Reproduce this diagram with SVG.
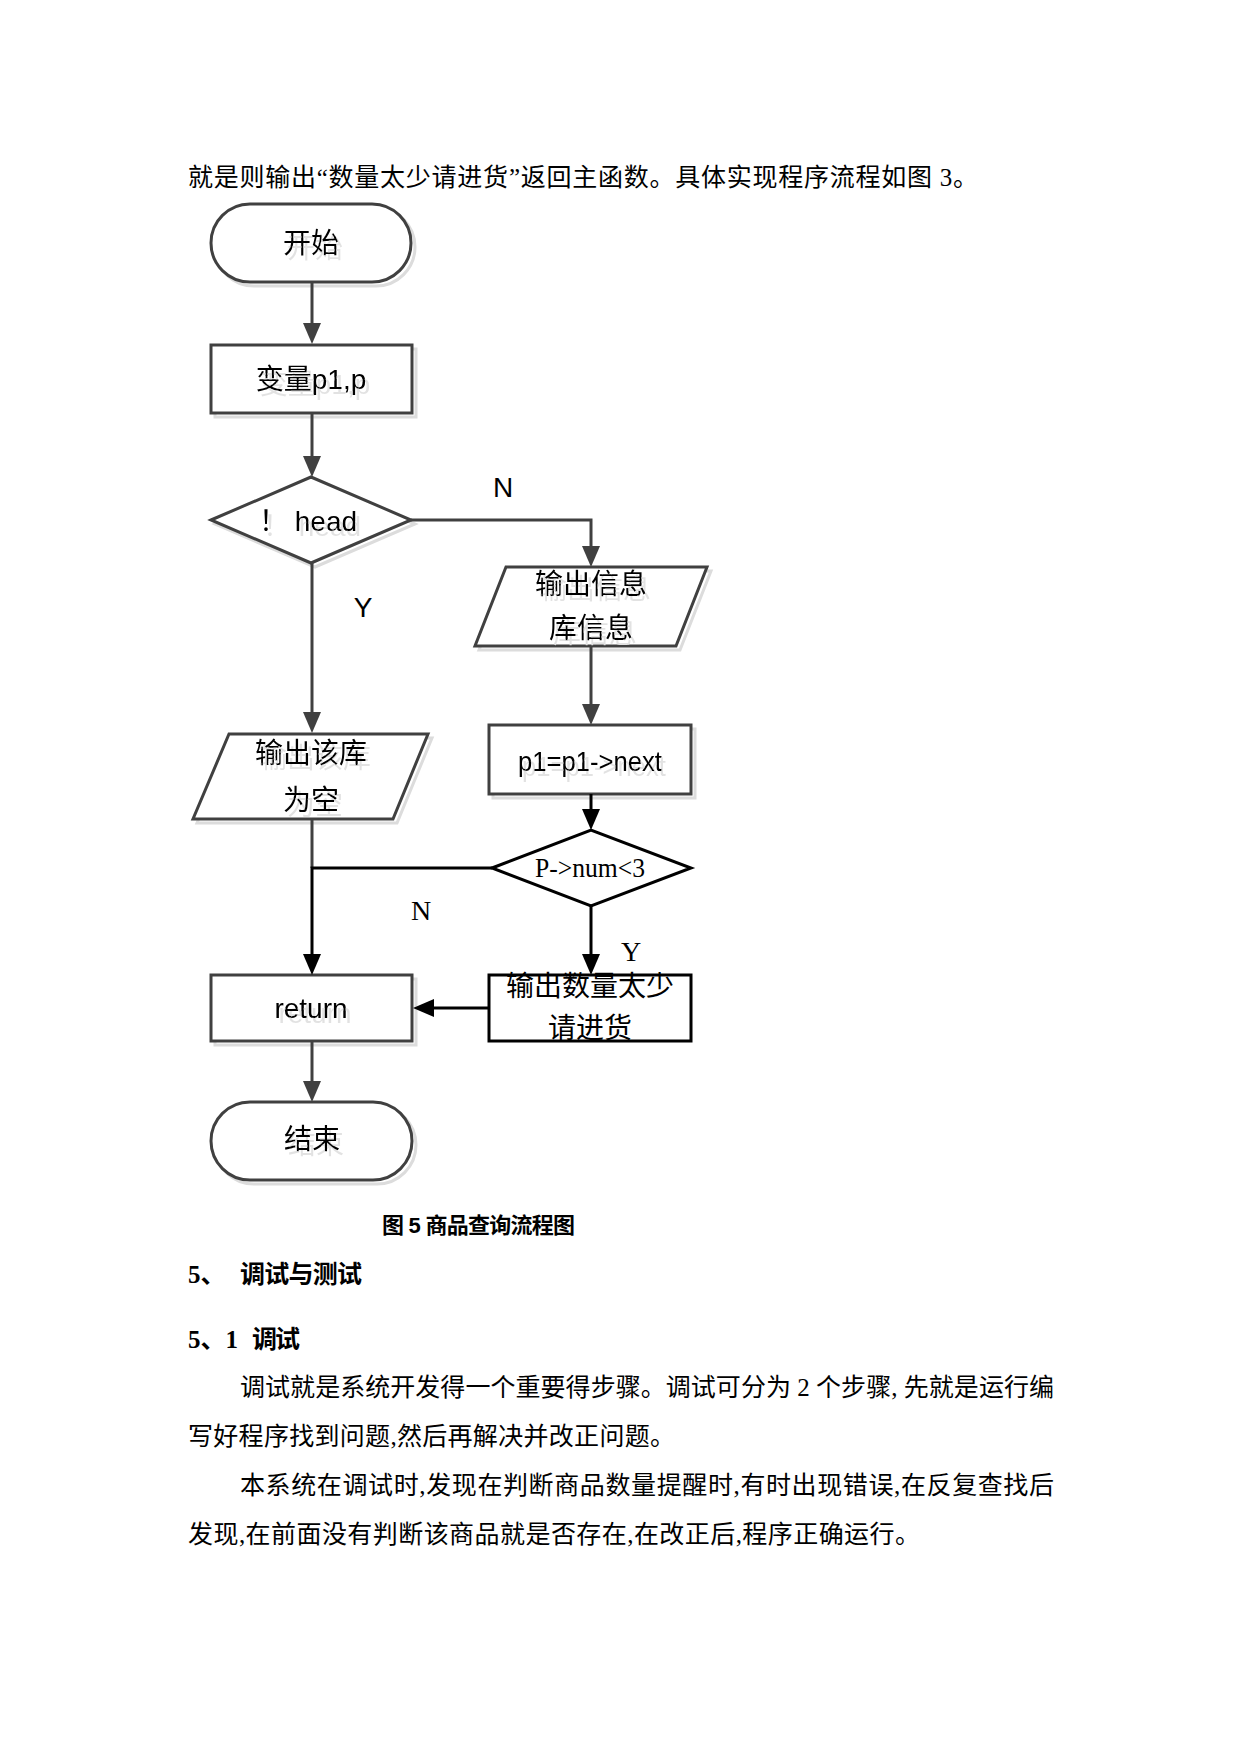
<svg xmlns="http://www.w3.org/2000/svg" width="1241" height="1754" viewBox="0 0 1241 1754">
<defs>
  <marker id="ag" markerUnits="userSpaceOnUse" markerWidth="21" markerHeight="18" viewBox="0 0 21 18" refX="15" refY="9" orient="auto"><path d="M0,0 L21,9 L0,18 z" fill="#404040"/></marker>
  <marker id="ab" markerUnits="userSpaceOnUse" markerWidth="21" markerHeight="18" viewBox="0 0 21 18" refX="15" refY="9" orient="auto"><path d="M0,0 L21,9 L0,18 z" fill="#000"/></marker>
  <filter id="ts" x="-20%" y="-30%" width="150%" height="170%">
    <feDropShadow dx="4" dy="5" stdDeviation="0" flood-color="#e2e2e2" flood-opacity="1"/>
  </filter>
</defs>
<style>
  .doc{font-family:"Liberation Serif","Noto Sans CJK SC",serif;font-size:25px;fill:#000}
  .hd{font-family:"Liberation Serif","Noto Sans CJK SC",sans-serif;font-size:25px;font-weight:bold;fill:#000}
  .cap{font-family:"Liberation Sans","Noto Sans CJK SC",sans-serif;font-size:22px;font-weight:bold;fill:#000}
  .shape{fill:#fff;stroke:#404040;stroke-width:3}
  .shadow{fill:#fff;stroke:#dcdcdc;stroke-width:3}
  .bshape{fill:#fff;stroke:#000;stroke-width:3}
  .lbl{font-family:"Liberation Sans","Noto Sans CJK SC",sans-serif;font-size:28px;fill:#000;text-anchor:middle}
  .sh{filter:url(#ts)}
  .slbl{font-family:"Liberation Serif","Noto Sans CJK SC",serif;font-size:28px;fill:#000;text-anchor:middle}
  .cg{fill:none;stroke:#404040;stroke-width:3;marker-end:url(#ag)}
  .cgn{fill:none;stroke:#404040;stroke-width:3}
  .cb{fill:none;stroke:#000;stroke-width:3;marker-end:url(#ab)}
</style>
<rect width="1241" height="1754" fill="#fff"/>

<g id="page-text">
  <text class="doc" x="188" y="186" textLength="790" lengthAdjust="spacing">就是则输出“数量太少请进货”返回主函数。具体实现程序流程如图 3。</text>
  <text class="cap" x="382" y="1233" textLength="193" lengthAdjust="spacing">图 5 商品查询流程图</text>
  <text class="hd" x="188" y="1283">5、</text>
  <text class="hd" x="240" y="1283" textLength="122" lengthAdjust="spacing">调试与测试</text>
  <text class="hd" x="188" y="1348">5、1</text>
  <text class="hd" x="252" y="1348" textLength="48" lengthAdjust="spacing">调试</text>
  <text class="doc" x="240" y="1396" textLength="814" lengthAdjust="spacing">调试就是系统开发得一个重要得步骤。调试可分为 2 个步骤, 先就是运行编</text>
  <text class="doc" x="188" y="1445" textLength="487" lengthAdjust="spacing">写好程序找到问题,然后再解决并改正问题。</text>
  <text class="doc" x="240" y="1494" textLength="814" lengthAdjust="spacing">本系统在调试时,发现在判断商品数量提醒时,有时出现错误,在反复查找后</text>
  <text class="doc" x="188" y="1543" textLength="732" lengthAdjust="spacing">发现,在前面没有判断该商品就是否存在,在改正后,程序正确运行。</text>
</g>

<g id="n-start">
  <rect class="shadow" x="215" y="208" width="200" height="78" rx="39"/>
  <rect class="shape" x="211" y="204" width="200" height="78" rx="39"/>
  <text class="lbl sh" x="311" y="253">开始</text>
</g>

<g id="n-var">
  <rect class="shadow" x="215" y="349" width="201" height="68"/>
  <rect class="shape" x="211" y="345" width="201" height="68"/>
  <text class="lbl sh" x="311" y="389">变量p1,p</text>
</g>

<g id="n-head">
  <polygon class="shadow" points="215,524 315,481 415,524 315,567"/>
  <polygon class="shape" points="211,520 311,477 411,520 311,563"/>
  <text class="lbl sh" x="308" y="531">！ head</text>
</g>

<g id="n-out-info">
  <polygon class="shadow" points="510,571 711,571 680,650 479,650"/>
  <polygon class="shape" points="506,567 707,567 676,646 475,646"/>
  <text class="lbl sh" x="591" y="594">输出信息</text>
  <text class="lbl sh" x="591" y="638">库信息</text>
</g>

<g id="n-out-empty">
  <polygon class="shadow" points="233,738 432,738 397,823 197,823"/>
  <polygon class="shape" points="229,734 428,734 393,819 193,819"/>
  <text class="lbl sh" x="311" y="763">输出该库</text>
  <text class="lbl sh" x="311" y="810">为空</text>
</g>

<g id="n-next">
  <rect class="shadow" x="493" y="729" width="202" height="69"/>
  <rect class="shape" x="489" y="725" width="202" height="69"/>
  <text class="lbl sh" x="590" y="771" textLength="144" lengthAdjust="spacingAndGlyphs">p1=p1-&gt;next</text>
</g>

<g id="n-num">
  <polygon class="bshape" points="492,868 591,830 691,868 591,906"/>
  <text class="slbl" x="590" y="877" textLength="110" lengthAdjust="spacingAndGlyphs">P-&gt;num&lt;3</text>
</g>

<g id="n-restock">
  <rect class="bshape" x="489" y="975" width="202" height="66"/>
  <text class="lbl" x="590" y="996">输出数量太少</text>
  <text class="lbl" x="590" y="1038">请进货</text>
</g>

<g id="n-return">
  <rect class="shadow" x="215" y="979" width="201" height="66"/>
  <rect class="shape" x="211" y="975" width="201" height="66"/>
  <text class="lbl sh" x="311" y="1018">return</text>
</g>

<g id="n-end">
  <rect class="shadow" x="215" y="1106" width="201" height="78" rx="39"/>
  <rect class="shape" x="211" y="1102" width="201" height="78" rx="39"/>
  <text class="lbl sh" x="312" y="1149">结束</text>
</g>

<g id="connectors">
  <path class="cg" d="M312,282 V338"/>
  <path class="cg" d="M312,413 V471"/>
  <path class="cg" d="M411,520 H591 V561"/>
  <path class="cg" d="M312,563 V727"/>
  <path class="cg" d="M591,646 V719"/>
  <path class="cgn" d="M312,819 V868"/>
  <path class="cg" d="M312,1041 V1096"/>
  <path class="cb" d="M591,794 V824"/>
  <path class="cb" d="M492,868 H312 V969"/>
  <path class="cb" d="M591,906 V969"/>
  <path class="cb" d="M489,1008 H419"/>
  <text class="lbl" x="503" y="497">N</text>
  <text class="lbl" x="363" y="617">Y</text>
  <text class="slbl" x="421" y="920">N</text>
  <text class="slbl" x="631" y="961">Y</text>
</g>
</svg>
